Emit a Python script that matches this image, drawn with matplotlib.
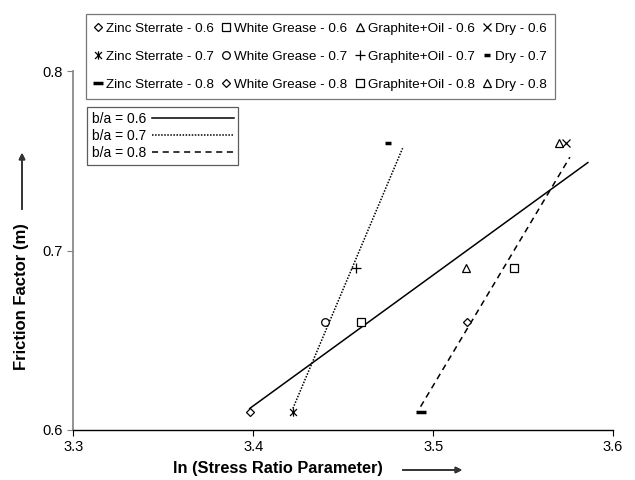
import matplotlib

matplotlib.use("Agg")
import matplotlib.pyplot as plt
from matplotlib.path import Path

plt.rcParams["font.family"] = ["Liberation Sans", "DejaVu Sans"]

# measured points, b/a = 0.6 / 0.7 / 0.8 for each lubricant
ratios = ["0.6", "0.7", "0.8"]
lubricants = ["Zinc Sterrate", "White Grease", "Graphite+Oil", "Dry"]
x_06 = [3.398, 3.460, 3.518, 3.574]
y_06 = [0.61, 0.66, 0.69, 0.76]
x_07 = [3.422, 3.440, 3.457, 3.475]
y_07 = [0.61, 0.66, 0.69, 0.76]
x_08 = [3.493, 3.519, 3.545, 3.570]
y_08 = [0.61, 0.66, 0.69, 0.76]

# trend line end points
fit_x = {"0.6": [3.398, 3.586], "0.7": [3.422, 3.483], "0.8": [3.493, 3.576]}
fit_y = {"0.6": [0.612, 0.749], "0.7": [0.612, 0.757], "0.8": [0.613, 0.752]}
fit_style = {"0.6": "-", "0.7": (0, (1, 1)), "0.8": (0, (4, 3))}

# Excel style "star": an x with a vertical bar through it
star = Path([(-1, -1), (1, 1), (-1, 1), (1, -1), (0, -1.2), (0, 1.2)],
            [Path.MOVETO, Path.LINETO] * 3)

# marker per (lubricant, ratio)
markers = {
    "0.6": [("D", 4, 0.9), ("s", 5.5, 0.9), ("^", 6, 0.9), ("x", 6, 0.9)],
    "0.7": [(star, 6, 0.9), ("o", 5.5, 0.9), ("+", 7, 0.9), ("_", 5, 2.5)],
    "0.8": [("_", 7, 2.5), ("D", 4, 0.9), ("s", 5.5, 0.9), ("^", 6, 0.9)],
}

fig = plt.figure(figsize=(6.35, 4.8), dpi=100)
ax = fig.add_axes([0.1157, 0.1042, 0.8497, 0.7478])

data = {"0.6": (x_06, y_06), "0.7": (x_07, y_07), "0.8": (x_08, y_08)}
handles = {}
for r in ratios:
    xs, ys = data[r]
    for i, lub in enumerate(lubricants):
        m, ms, mew = markers[r][i]
        h, = ax.plot(xs[i], ys[i], linestyle="none", marker=m, markersize=ms,
                     markeredgewidth=mew, markerfacecolor="white",
                     markeredgecolor="black", color="black", zorder=3)
        handles[(lub, r)] = h

line_handles = []
for r in ratios:
    h, = ax.plot(fit_x[r], fit_y[r], color="black", lw=1.1, linestyle=fit_style[r])
    line_handles.append(h)

ax.set_xlim(3.3, 3.6)
ax.set_ylim(0.6, 0.8)
ax.set_xticks([3.3, 3.4, 3.5, 3.6])
ax.set_yticks([0.6, 0.7, 0.8])
ax.set_xticklabels(["3.3", "3.4", "3.5", "3.6"])
ax.set_yticklabels(["0.6", "0.7", "0.8"])
ax.tick_params(direction="out", length=4, labelsize=10.5, width=0.8)
ax.tick_params(axis="y", colors="#808080", labelcolor="black")
for s in ["top", "right"]:
    ax.spines[s].set_visible(False)
ax.spines["left"].set_color("#808080")
ax.spines["left"].set_linewidth(1.2)
ax.spines["bottom"].set_linewidth(1.0)

# legend of points, filled row by row
h_list, l_list = [], []
for lub in lubricants:
    for r in ratios:
        h_list.append(handles[(lub, r)])
        l_list.append(f"{lub} - {r}")
leg1 = fig.legend(h_list, l_list, ncol=4, loc="upper left",
                  bbox_to_anchor=(0.1354, 0.9708), fontsize=9.7,
                  frameon=True, fancybox=False, edgecolor="#555555",
                  handlelength=0.6, handletextpad=0.3, columnspacing=0.6,
                  labelspacing=1.18, borderpad=0.6, borderaxespad=0)
leg1.get_frame().set_linewidth(0.9)

leg2 = fig.legend(line_handles, [f"b/a = {r}" for r in ratios], loc="upper left",
                  bbox_to_anchor=(0.137, 0.777), fontsize=10, markerfirst=False,
                  frameon=True, fancybox=False, edgecolor="#333333",
                  handlelength=5.9, handletextpad=0.4, labelspacing=0.22,
                  borderpad=0.35, borderaxespad=0)
leg2.get_frame().set_linewidth(0.9)

fig.text(22 / 635, 1 - 297 / 480, "Friction Factor (m)", rotation=90,
         ha="center", va="center", fontsize=12, fontweight="bold")
fig.text(278 / 635, 1 - 469 / 480, "ln (Stress Ratio Parameter)",
         ha="center", va="center", fontsize=11.8, fontweight="bold")
arrow = dict(arrowstyle="-|>", color="#333333", lw=1.2, mutation_scale=9)
fig.add_artist(plt.annotate("", xy=(22 / 635, 1 - 150 / 480), xycoords="figure fraction",
                            xytext=(22 / 635, 1 - 212 / 480), textcoords="figure fraction",
                            arrowprops=arrow))
fig.add_artist(plt.annotate("", xy=(465 / 635, 1 - 470 / 480), xycoords="figure fraction",
                            xytext=(400 / 635, 1 - 470 / 480), textcoords="figure fraction",
                            arrowprops=arrow))

fig.savefig("out.png", dpi=100)
